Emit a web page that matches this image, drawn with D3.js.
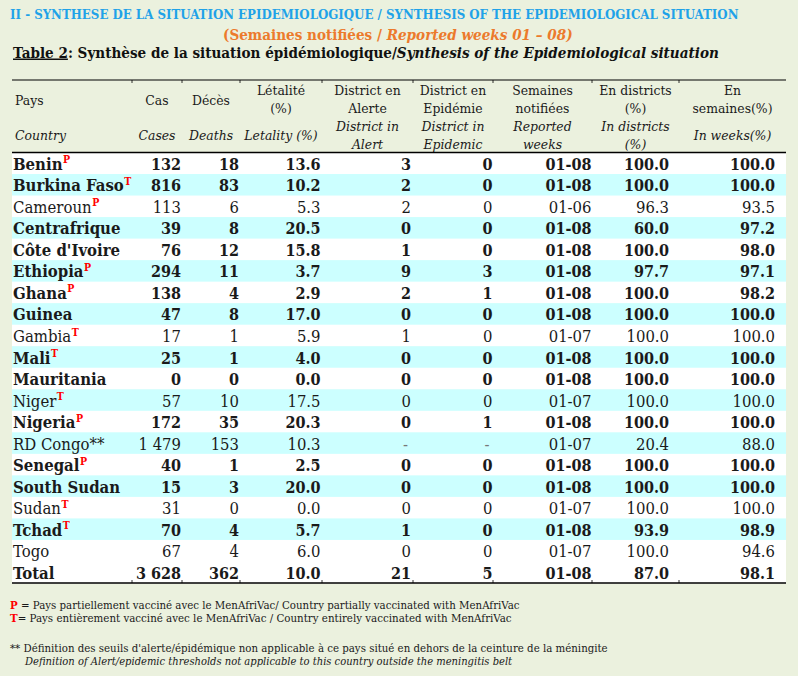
<!DOCTYPE html>
<html>
<head>
<meta charset="utf-8">
<script src="https://cdn.jsdelivr.net/npm/d3@7"></script>
<style>
  html, body { margin: 0; padding: 0; background: #EBF1DE; }
  svg { display: block; font-family: "DejaVu Serif Condensed", "DejaVu Serif", serif; font-stretch: condensed; }
</style>
</head>
<body>
<div id="vis"></div>
<script>
/*globals d3 */

// table values, read from the bulletin
var countries = ["Benin", "Burkina Faso", "Cameroun", "Centrafrique", "Côte d'Ivoire", "Ethiopia", "Ghana",
    "Guinea", "Gambia", "Mali", "Mauritania", "Niger", "Nigeria", "RD Congo**", "Senegal", "South Sudan",
    "Sudan", "Tchad", "Togo", "Total"];
var vaccine = ["P", "T", "P", "", "", "P", "P", "", "T", "T", "", "T", "P", "", "P", "", "T", "T", "", ""];
var cases = [132, 816, 113, 39, 76, 294, 138, 47, 17, 25, 0, 57, 172, 1479, 40, 15, 31, 70, 67, 3628];
var deaths = [18, 83, 6, 8, 12, 11, 4, 8, 1, 1, 0, 10, 35, 153, 1, 3, 0, 4, 4, 362];
var letality = [13.6, 10.2, 5.3, 20.5, 15.8, 3.7, 2.9, 17.0, 5.9, 4.0, 0.0, 17.5, 20.3, 10.3, 2.5, 20.0, 0.0, 5.7, 6.0, 10.0];
var alertDistricts = [3, 2, 2, 0, 1, 9, 2, 0, 1, 0, 0, 0, 0, null, 0, 0, 0, 1, 0, 21];
var epidemicDistricts = [0, 0, 0, 0, 0, 3, 1, 0, 0, 0, 0, 0, 1, null, 0, 0, 0, 0, 0, 5];
var weeks = ["01-08", "01-08", "01-06", "01-08", "01-08", "01-08", "01-08", "01-08", "01-07", "01-08",
    "01-08", "01-07", "01-08", "01-07", "01-08", "01-08", "01-07", "01-08", "01-07", "01-08"];
var inDistricts = [100, 100, 96.3, 60.0, 100, 97.7, 100, 100, 100, 100, 100, 100, 100, 20.4, 100, 100, 100, 93.9, 100, 87.0];
var inWeeks = [100, 100, 93.5, 97.2, 98.0, 97.1, 98.2, 100, 100, 100, 100, 100, 100, 88.0, 100, 100, 100, 98.9, 94.6, 98.1];

// header labels: french lines, english lines
var headers = [
    {key: "country", fr: ["Pays"], en: ["Country"]},
    {key: "cases", fr: ["Cas"], en: ["Cases"]},
    {key: "deaths", fr: ["Décès"], en: ["Deaths"]},
    {key: "letality", fr: ["Létalité", "(%)"], en: ["Letality (%)"]},
    {key: "alert", fr: ["District en", "Alerte"], en: ["District in", "Alert"]},
    {key: "epidemic", fr: ["District en", "Epidémie"], en: ["District in", "Epidemic"]},
    {key: "weeks", fr: ["Semaines", "notifiées"], en: ["Reported", "weeks"]},
    {key: "inDistricts", fr: ["En districts", "(%)"], en: ["In districts", "(%)"]},
    {key: "inWeeks", fr: ["En", "semaines(%)"], en: ["In weeks(%)"]}
];

var W = 798, H = 676;
var left = 12, right = 786;
var topLine = 80, headLine = 152.5, bottomLine = 583;

var fmtInt = d3.formatLocale({decimal: ".", thousands: " ", grouping: [3], currency: ["", ""]}).format(",d");
var fmt1 = d3.format(".1f");

var rows = countries.map(function (c, i) {
    return {
        country: c,
        mark: vaccine[i],
        bold: weeks[i] === "01-08",
        cases: fmtInt(cases[i]),
        deaths: fmtInt(deaths[i]),
        letality: fmt1(letality[i]),
        alert: alertDistricts[i] === null ? "-" : String(alertDistricts[i]),
        epidemic: epidemicDistricts[i] === null ? "-" : String(epidemicDistricts[i]),
        weeks: weeks[i],
        inDistricts: fmt1(inDistricts[i]),
        inWeeks: fmt1(inWeeks[i])
    };
});

var keys = headers.map(function (h) { return h.key; });
// column borders
var colEdge = d3.scaleOrdinal().domain(keys)
    .range([[12, 132], [132, 182], [182, 240], [240, 322], [322, 413], [413, 493], [493, 592], [592, 679], [679, 786]]);
// right anchor of the numbers in each column
var colRight = d3.scaleOrdinal().domain(keys.slice(1))
    .range([181, 239, 320.5, 411, 492.5, 591.5, 669, 775]);

var y = d3.scaleBand().domain(d3.range(rows.length)).range([headLine, bottomLine]);

var svg = d3.select("#vis").append("svg")
    .attr("width", W)
    .attr("height", H);

svg.append("rect").attr("width", W).attr("height", H).attr("fill", "#EBF1DE");

function fit(sel, width) {
    var w = sel.node().getComputedTextLength(),
        fs = parseFloat(sel.attr("font-size"));
    sel.attr("font-size", fs * width / w);
}

// titles
var t1 = svg.append("text")
    .attr("x", 10).attr("y", 19)
    .attr("font-size", 13).attr("font-weight", "bold").attr("fill", "#1FA2E8")
    .text("II - SYNTHESE DE LA SITUATION EPIDEMIOLOGIQUE / SYNTHESIS OF THE EPIDEMIOLOGICAL SITUATION");
fit(t1, 729);

var t2 = svg.append("text")
    .attr("x", 223).attr("y", 40)
    .attr("font-size", 15).attr("font-weight", "bold").attr("fill", "#EC7A2C");
t2.append("tspan").text("(Semaines notifiées / ");
t2.append("tspan").attr("font-style", "italic").text("Reported weeks 01 – 08)");
fit(t2, 350);

var t3 = svg.append("text")
    .attr("x", 13).attr("y", 57.5)
    .attr("font-size", 16).attr("font-weight", "bold").attr("fill", "#111");
t3.append("tspan").attr("text-decoration", "underline").text("Table 2");
t3.append("tspan").text(": Synthèse de la situation épidémiologique/");
t3.append("tspan").attr("font-style", "italic").text("Synthesis of the Epidemiological situation");
fit(t3, 706);

// row stripes
svg.append("g").selectAll("rect")
    .data(rows)
    .join("rect")
    .attr("x", left)
    .attr("y", function (d, i) { return y(i); })
    .attr("width", right - left)
    .attr("height", y.bandwidth() + 0.5)
    .attr("fill", function (d, i) { return (i % 2 === 1 && i < rows.length - 1) ? "#CCFFFF" : "#FFFFFF"; });

// header
var head = svg.append("g").attr("font-size", 13.8).attr("fill", "#1a1a1a");
headers.forEach(function (h) {
    var e = colEdge(h.key),
        cx = h.key === "country" ? 15 : (e[0] + e[1]) / 2,
        anchor = h.key === "country" ? "start" : "middle";
    var frY = h.fr.length === 1 ? [105] : [95, 113],
        enY = h.en.length === 1 ? [140] : [131, 149];
    h.fr.forEach(function (s, j) {
        head.append("text").attr("x", cx).attr("y", frY[j]).attr("text-anchor", anchor).text(s);
    });
    h.en.forEach(function (s, j) {
        head.append("text").attr("x", cx).attr("y", enY[j]).attr("text-anchor", anchor)
            .attr("font-style", "italic").text(s);
    });
});

// body
var body = svg.append("g").attr("fill", "#1a1a1a");
var rowG = body.selectAll("g")
    .data(rows)
    .join("g")
    .attr("transform", function (d, i) { return "translate(0," + (y(i) + 17.3) + ")"; })
    .attr("font-weight", function (d) { return d.bold ? "bold" : "normal"; });

var nameText = rowG.append("text")
    .attr("x", 13)
    .attr("font-size", function (d) { return d.bold ? 16.6 : 16.6; });
nameText.append("tspan").text(function (d) { return d.country; });
nameText.append("tspan")
    .attr("dy", -6.5)
    .attr("dx", 0.5)
    .attr("font-size", 10.5)
    .attr("font-weight", "bold")
    .attr("fill", "#FF0000")
    .text(function (d) { return d.mark; });

keys.slice(1).forEach(function (k) {
    rowG.append("text")
        .attr("x", function (d) { return d[k] === "-" ? colRight(k) - 3 : colRight(k); })
        .attr("text-anchor", "end")
        .attr("font-size", function (d) { return d.bold ? 16 : 16.5; })
        .attr("fill", function (d) { return d[k] === "-" ? "#777" : null; })
        .text(function (d) { return d[k]; });
});

// rules with small column ticks
var edges = [132, 182, 240, 322, 413, 493, 592, 679];
function rule(yy, w, tickDir) {
    svg.append("line")
        .attr("x1", left).attr("x2", right)
        .attr("y1", yy).attr("y2", yy)
        .attr("stroke", "#000").attr("stroke-width", w);
    if (tickDir) {
        svg.append("g").selectAll("line")
            .data(edges)
            .join("line")
            .attr("x1", function (d) { return d; }).attr("x2", function (d) { return d; })
            .attr("y1", yy).attr("y2", yy + tickDir * 3)
            .attr("stroke", "#000").attr("stroke-width", 0.8);
    }
}
rule(topLine, 1.2, 1);
rule(headLine, 1.5, 0);
rule(bottomLine, 1.5, -1);

// footnotes
var f1 = svg.append("text").attr("x", 10).attr("y", 609).attr("font-size", 10).attr("fill", "#1a1a1a");
f1.append("tspan").attr("fill", "#FF0000").attr("font-weight", "bold").text("P");
f1.append("tspan").text(" = Pays partiellement vacciné avec le MenAfriVac/ Country partially  vaccinated with MenAfriVac");
fit(f1, 510);

var f2 = svg.append("text").attr("x", 10).attr("y", 622).attr("font-size", 10).attr("fill", "#1a1a1a");
f2.append("tspan").attr("fill", "#FF0000").attr("font-weight", "bold").text("T");
f2.append("tspan").text("= Pays entièrement vacciné avec le MenAfriVac / Country entirely  vaccinated with MenAfriVac");
fit(f2, 502);

var f3 = svg.append("text").attr("x", 10).attr("y", 652).attr("font-size", 10).attr("fill", "#1a1a1a")
    .text("**  Définition des seuils d'alerte/épidémique non applicable à ce pays situé en dehors de la ceinture de la méningite");
fit(f3, 598);

var f4 = svg.append("text").attr("x", 25).attr("y", 665).attr("font-size", 10).attr("fill", "#1a1a1a")
    .attr("font-style", "italic")
    .text("Definition of Alert/epidemic thresholds not applicable to this country outside the meningitis belt");
fit(f4, 488);
</script>
</body>
</html>
